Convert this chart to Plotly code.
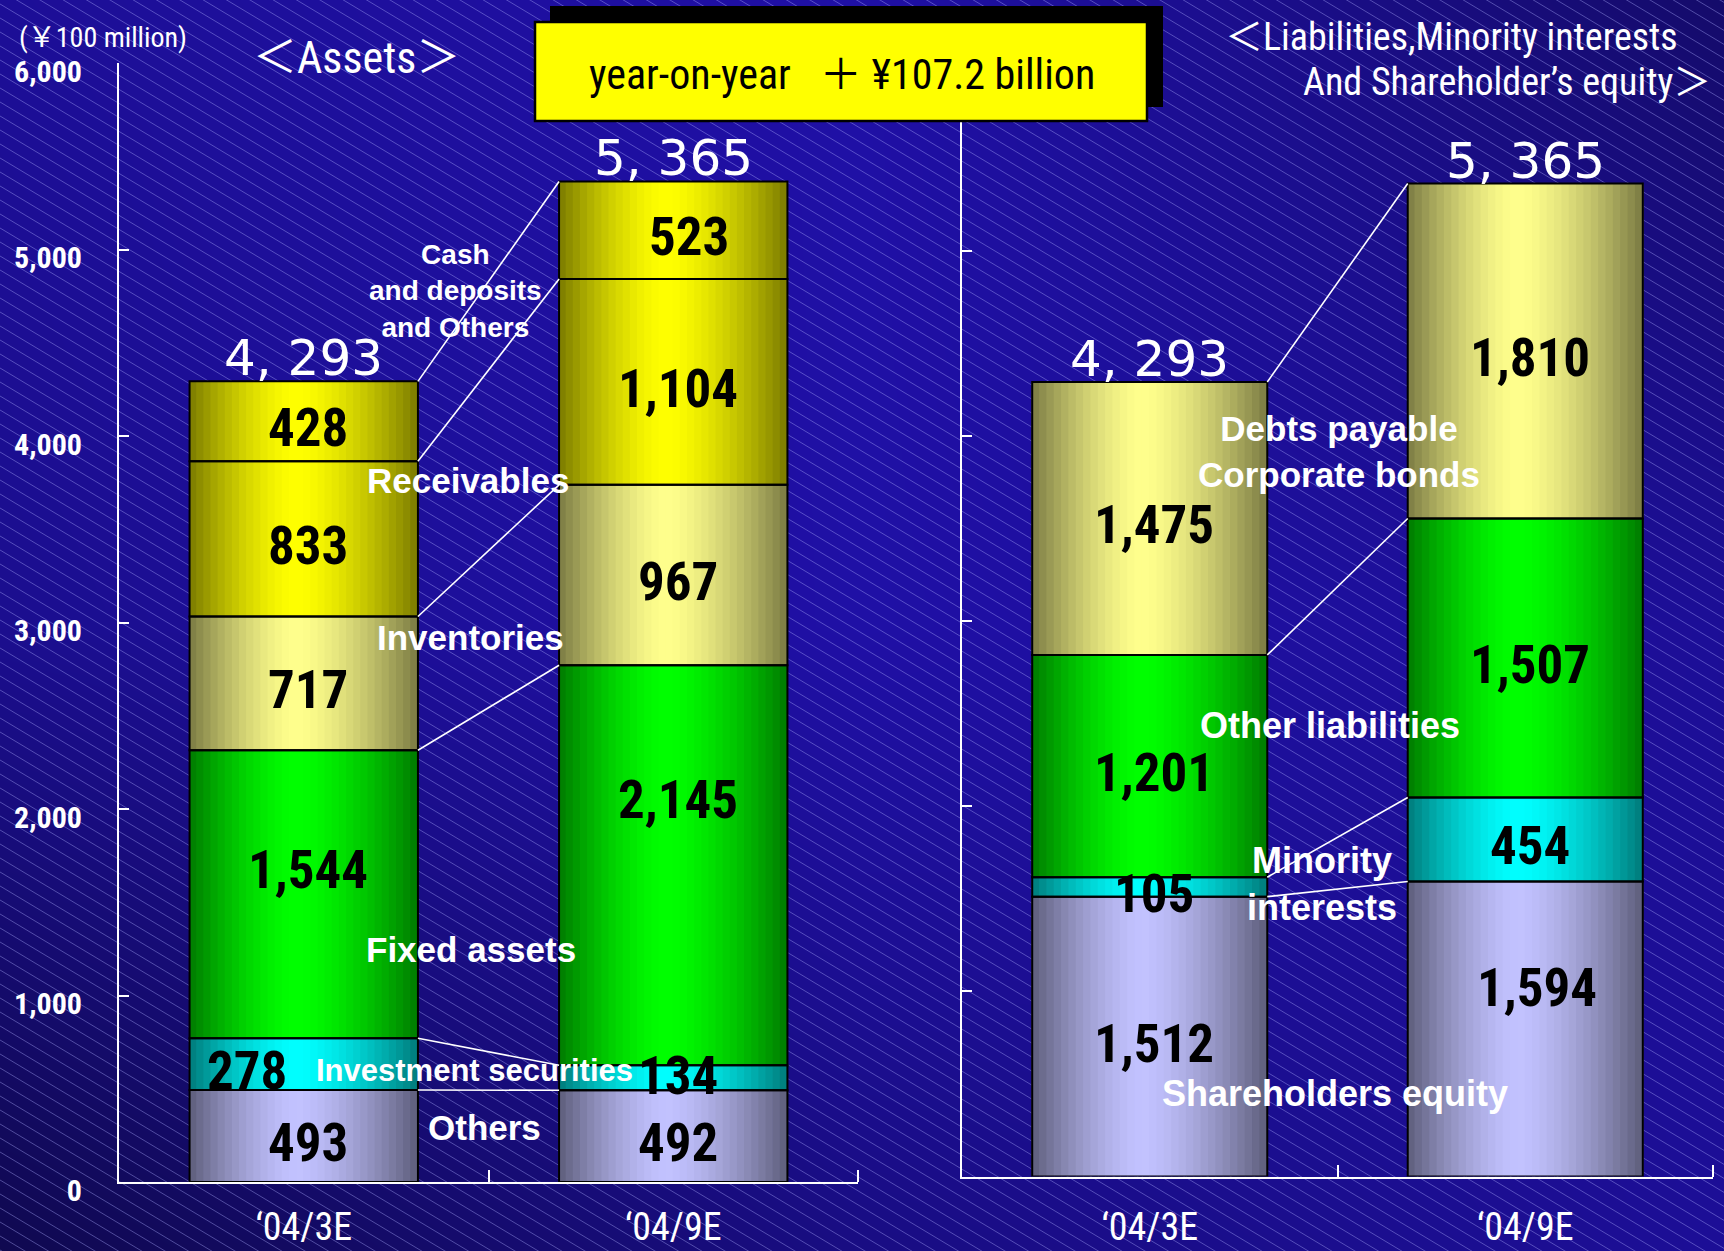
import plotly.graph_objects as go

# ---------------- data ----------------
categories = ["\u201804/3E", "\u201804/9E"]

# Assets (bottom -> top), unit: 100 million yen
others = [493, 492]
investment_securities = [278, 134]
fixed_assets = [1544, 2145]
inventories = [717, 967]
receivables = [833, 1104]
cash_deposits_others = [428, 523]

# Liabilities, minority interests and shareholders' equity (bottom -> top)
shareholders_equity = [1512, 1594]
minority_interests = [105, 454]
other_liabilities = [1201, 1507]
debts_corporate_bonds = [1475, 1810]

asset_names = ["Others", "Investment securities", "Fixed assets",
               "Inventories", "Receivables", "Cash<br>and deposits<br>and Others"]
liab_names = ["Shareholders equity", "Minority<br>interests",
              "Other liabilities", "Debts payable<br>Corporate bonds"]

y_ticks = [0, 1000, 2000, 3000, 4000, 5000, 6000]
unit_label = "(\uffe5100 million)"
assets_title = "\uff1cAssets\uff1e"
liab_title_1 = "\uff1cLiabilities,Minority interests"
liab_title_2 = "And Shareholder\u2019s equity\uff1e"
headline = "year-on-year\u00a0\u00a0\u00a0\uff0b \u00a5107.2 billion"

asset_series = [others, investment_securities, fixed_assets,
                inventories, receivables, cash_deposits_others]
liab_series = [shareholders_equity, minority_interests,
               other_liabilities, debts_corporate_bonds]

# ---------------- styles / layout ----------------
W, H = 1724, 1251
COND = "Liberation Sans Narrow, Roboto Condensed, Noto Sans CJK JP, sans-serif"
SANS = "Liberation Sans, Arial, sans-serif"
WIDE = "DejaVu Sans, Verdana, sans-serif"

YELLOW = (255, 255, 0)
LIGHT_YELLOW = (255, 255, 140)
GREEN = (0, 255, 0)
CYAN = (0, 255, 255)
LAVENDER = (194, 194, 255)
asset_colors = [LAVENDER, CYAN, GREEN, LIGHT_YELLOW, YELLOW, YELLOW]
liab_colors = [LAVENDER, CYAN, GREEN, LIGHT_YELLOW]

BAR_W_L = 0.618
BAR_W_R = 0.626

# label placements (data units of each panel): series name labels
asset_name_pos = [(0.49, 290), (0.463, 600), (0.452, 1249), (0.452, 2917), (0.444, 3764), (0.412, 4777)]
asset_name_size = [35, 31, 35, 35, 35, 28]
liab_name_pos = [(0.493, 446), (0.459, 1581), (0.48, 2435), (0.504, 3916)]
liab_name_size = [36, 36, 36, 35]

# value label nudges (dx in category units, dy in value units)
asset_nudge = {(0, 1): (-0.165, 0), (0, 2): (0, 165), (1, 2): (0, 389),
               (1, 1): (0, 47), (1, 5): (0.03, 0)}
liab_nudge = {(1, 0): (0.02, 261)}

fig = go.Figure()

# background gradient + hatching (decoration, full-page axis)
bg_z = [[0.08, 0.6, 0.8], [0.72, 0.95, 0.8], [0.8, 0.95, 0.35]]
fig.add_trace(go.Heatmap(x=[0, 0.5, 1], y=[0, 0.5, 1], z=bg_z, zmin=0, zmax=1,
                         colorscale=[[0, "rgb(14,8,72)"], [1, "rgb(32,16,170)"]],
                         zsmooth="best", showscale=False, hoverinfo="skip",
                         xaxis="x", yaxis="y"))
hx, hy = [], []
c = -1060.0
while c < H + 20:
    hx += [0, 1, None]
    hy += [1 - c / H, 1 - (c + 0.6 * W) / H, None]
    c += 14
fig.add_trace(go.Scatter(x=hx, y=hy, mode="lines", hoverinfo="skip", showlegend=False,
                         line=dict(color="rgba(175,175,255,0.40)", width=1),
                         xaxis="x", yaxis="y"))


def shade(rgb, t, peak=0.47, edge=0.48):
    d = abs(t - peak) / (peak if t < peak else 1 - peak)
    f = 1 - (1 - edge) * d ** 1.5
    return "rgb(%d,%d,%d)" % tuple(round(v * f) for v in rgb)


def add_stack(series, colors, names, xa, ya, width, nstrip=32):
    n = len(series[0])
    bottoms = [0] * n
    sw = width / nstrip
    strip_traces, outline_traces = [], []
    for vals, col, name in zip(series, colors, names):
        xs, ys, bs, cs = [], [], [], []
        for i in range(n):
            for k in range(nstrip):
                t = (k + 0.5) / nstrip
                xs.append(i - width / 2 + t * width)
                ys.append(vals[i])
                bs.append(bottoms[i])
                cs.append(shade(col, t))
        strip_traces.append(go.Bar(x=xs, y=ys, base=bs, width=sw * 1.15,
                                   marker=dict(color=cs, line=dict(width=0)),
                                   hoverinfo="skip", showlegend=False,
                                   xaxis=xa, yaxis=ya))
        outline_traces.append(go.Bar(x=list(range(n)), y=vals, base=list(bottoms), width=width,
                                     name=name.replace("<br>", " "),
                                     marker=dict(color="rgba(0,0,0,0)",
                                                 line=dict(color="black", width=2)),
                                     showlegend=False, xaxis=xa, yaxis=ya))
        bottoms = [b + v for b, v in zip(bottoms, vals)]
    for tr in strip_traces + outline_traces:
        fig.add_trace(tr)
    # leader lines between bars
    lx, ly = [], []
    c0 = c1 = 0
    for vals in series:
        c0 += vals[0]
        c1 += vals[1]
        lx += [width / 2, 1 - width / 2, None]
        ly += [c0, c1, None]
    fig.add_trace(go.Scatter(x=lx, y=ly, mode="lines", hoverinfo="skip", showlegend=False,
                             line=dict(color="white", width=1.6), xaxis=xa, yaxis=ya))
    return bottoms


tot_l = add_stack(asset_series, asset_colors, asset_names, "x2", "y2", BAR_W_L)
tot_r = add_stack(liab_series, liab_colors, liab_names, "x3", "y3", BAR_W_R)

ann = []


def value_labels(series, xref, yref, nudge):
    n = len(series[0])
    bottoms = [0] * n
    for s, vals in enumerate(series):
        for i in range(n):
            dx, dy = nudge.get((i, s), (0, 0))
            ann.append(dict(x=i + 0.012 + dx, y=bottoms[i] + vals[i] / 2 + dy, xref=xref, yref=yref,
                            xanchor="center", yanchor="middle",
                            text=f"{vals[i]:,}", showarrow=False, yshift=-7,
                            font=dict(family=COND, size=53, color="black", weight="bold")))
        bottoms = [b + v for b, v in zip(bottoms, vals)]


value_labels(asset_series, "x2", "y2", asset_nudge)
value_labels(liab_series, "x3", "y3", liab_nudge)

for tots, xref, yref in [(tot_l, "x2", "y2"), (tot_r, "x3", "y3")]:
    for i, t in enumerate(tots):
        ann.append(dict(x=i, y=t, xref=xref, yref=yref, xanchor="center", yanchor="bottom", yshift=-8,
                        text=f"{t // 1000}, {t % 1000:03d}", showarrow=False,
                        font=dict(family=WIDE, size=50, color="white")))

for (px, py), nm, sz in zip(asset_name_pos, asset_names, asset_name_size):
    ann.append(dict(x=px, y=py, xref="x2", yref="y2", text=nm, showarrow=False,
                    xanchor="center", yanchor="middle",
                    font=dict(family=SANS, size=sz, color="white", weight="bold")))
for (px, py), nm, sz in zip(liab_name_pos, liab_names, liab_name_size):
    ann.append(dict(x=px, y=py, xref="x3", yref="y3", text=nm, showarrow=False,
                    xanchor="center", yanchor="middle",
                    font=dict(family=SANS, size=sz, color="white", weight="bold")))

# headers
hdr = dict(xref="paper", yref="paper", showarrow=False, yanchor="middle")
ann.append(dict(x=103 / W, y=1 - 38 / H, text=unit_label, xanchor="center",
                font=dict(family=COND, size=28, color="white"), **hdr))
ann.append(dict(x=356 / W, y=1 - 58 / H, text=assets_title, xanchor="center",
                font=dict(family=COND, size=44, color="white"), **hdr))
ann.append(dict(x=1680 / W, y=1 - 37 / H, text=liab_title_1, xanchor="right",
                font=dict(family=COND, size=38, color="white"), **hdr))
ann.append(dict(x=1713 / W, y=1 - 82 / H, text=liab_title_2, xanchor="right",
                font=dict(family=COND, size=38, color="white"), **hdr))
ann.append(dict(x=842 / W, y=1 - 75 / H, text=headline, xanchor="center",
                font=dict(family=COND, size=42, color="black"), **hdr))

shapes = [
    dict(type="rect", xref="paper", yref="paper", x0=550 / W, x1=1163 / W, y0=1 - 107 / H, y1=1 - 6 / H,
         fillcolor="black", line=dict(width=0), layer="above"),
    dict(type="rect", xref="paper", yref="paper", x0=535 / W, x1=1147 / W, y0=1 - 121 / H, y1=1 - 22 / H,
         fillcolor="rgb(255,255,0)", line=dict(color="black", width=2.5), layer="above"),
]

tickfont_y = dict(family=COND, size=30, color="white", weight="bold")
tickfont_x = dict(family=COND, size=38, color="white")
axis_common = dict(showgrid=False, zeroline=False, showline=True, linecolor="white", linewidth=2,
                   fixedrange=True, automargin=False)
minor_x = dict(tickmode="array", tickvals=[0.5, 1.5], ticks="inside", ticklen=12, tickwidth=2,
               tickcolor="white", showgrid=False)

fig.update_layout(
    width=W, height=H, margin=dict(l=0, r=0, t=0, b=0, pad=0, autoexpand=False),
    paper_bgcolor="rgb(24,12,120)", plot_bgcolor="rgba(0,0,0,0)",
    barmode="overlay", showlegend=False, annotations=ann, shapes=shapes,
    xaxis=dict(domain=[0, 1], range=[0, 1], visible=False, fixedrange=True, automargin=False),
    yaxis=dict(domain=[0, 1], range=[0, 1], visible=False, fixedrange=True, automargin=False),
    xaxis2=dict(domain=[119 / W, 858 / W], range=[-0.5, 1.5], anchor="y2",
                tickmode="array", tickvals=[0, 1], ticktext=categories, ticks="",
                tickfont=tickfont_x, ticklabelstandoff=10, minor=minor_x, **axis_common),
    yaxis2=dict(domain=[1 - 1182 / H, 1 - 63 / H], range=[0, 6000], anchor="x2",
                tickmode="array", tickvals=y_ticks, ticktext=[f"{v:,}" for v in y_ticks],
                ticks="inside", ticklen=10, tickwidth=2, tickcolor="white",
                tickfont=tickfont_y, ticklabelstandoff=29, ticklabelshift=8, **axis_common),
    xaxis3=dict(domain=[962 / W, 1713 / W], range=[-0.5, 1.5], anchor="y3",
                tickmode="array", tickvals=[0, 1], ticktext=categories, ticks="",
                tickfont=tickfont_x, ticklabelstandoff=16, minor=minor_x, **axis_common),
    yaxis3=dict(domain=[1 - 1176.5 / H, 1 - 66 / H], range=[0, 6000], anchor="x3",
                tickmode="array", tickvals=y_ticks, showticklabels=False,
                ticks="inside", ticklen=10, tickwidth=2, tickcolor="white", **axis_common),
)

fig.write_html(
    "out.html",
    config={"responsive": False, "displayModeBar": False},
    post_script="document.body.style.margin='0px';document.body.style.padding='0px';"
                "document.documentElement.style.overflow='hidden';document.body.style.overflow='hidden';",
)
